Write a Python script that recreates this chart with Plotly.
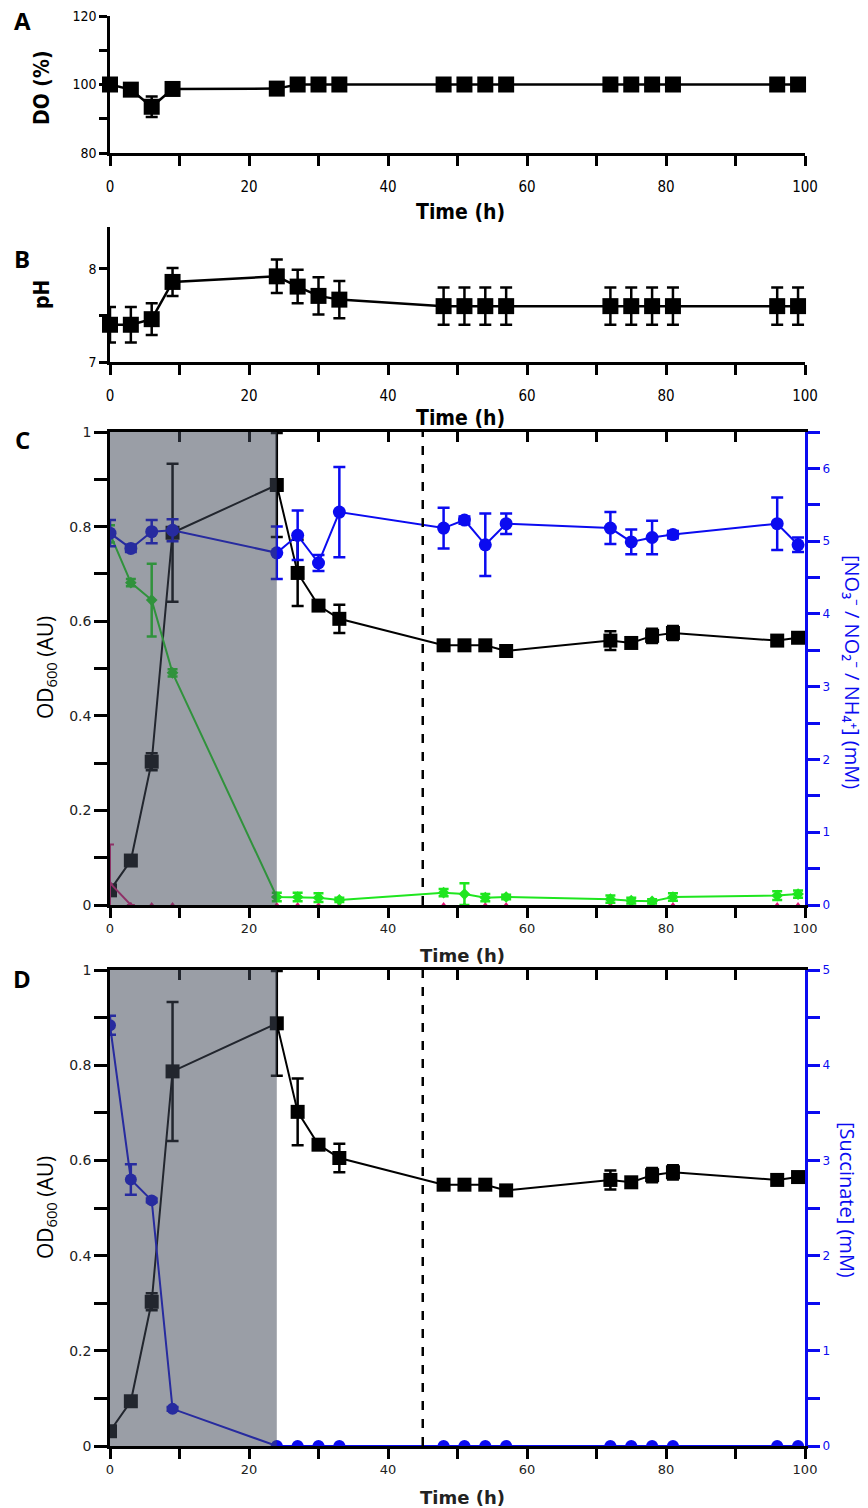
import plotly.graph_objects as go

# ---------------- data ----------------
time_h = [0, 3, 6, 9, 24, 27, 30, 33, 48, 51, 54, 57, 72, 75, 78, 81, 96, 99]

do_pct = [100, 98.5, 93.5, 98.7, 98.8, 100, 100, 100, 100, 100, 100, 100, 100, 100, 100, 100, 100, 100]
do_err = [0, 0, 3.0, 0, 0, 0, 0, 0, 0, 0, 0, 0, 0, 0, 0, 0, 0, 0]

ph = [7.40, 7.40, 7.46, 7.86, 7.92, 7.81, 7.71, 7.67, 7.60, 7.60, 7.60, 7.60, 7.60, 7.60, 7.60, 7.60, 7.60, 7.60]
ph_err = [0.19, 0.19, 0.17, 0.15, 0.18, 0.18, 0.20, 0.20, 0.20, 0.20, 0.20, 0.20, 0.20, 0.20, 0.20, 0.20, 0.20, 0.20]

od600 = [0.031, 0.094, 0.303, 0.787, 0.888, 0.702, 0.633, 0.605, 0.549, 0.549, 0.549, 0.537, 0.559, 0.554, 0.569, 0.575, 0.559, 0.565]
od600_err = [0.005, 0.005, 0.018, 0.146, 0.11, 0.07, 0.008, 0.03, 0.008, 0.005, 0.005, 0.008, 0.02, 0.008, 0.015, 0.015, 0.01, 0.01]

nitrate = [5.11, 4.90, 5.13, 5.15, 4.84, 5.08, 4.70, 5.40, 5.18, 5.29, 4.95, 5.24, 5.18, 4.99, 5.05, 5.09, 5.24, 4.95]
nitrate_err = [0.18, 0.05, 0.16, 0.15, 0.36, 0.34, 0.11, 0.62, 0.28, 0.05, 0.43, 0.14, 0.22, 0.17, 0.23, 0.05, 0.36, 0.10]

nitrite = [5.10, 4.43, 4.19, 3.19, 0.11, 0.11, 0.10, 0.07, 0.17, 0.15, 0.10, 0.11, 0.08, 0.06, 0.05, 0.11, 0.13, 0.15]
nitrite_err = [0.12, 0.05, 0.50, 0.05, 0.06, 0.06, 0.06, 0.03, 0.05, 0.15, 0.05, 0.03, 0.05, 0.04, 0.03, 0.05, 0.06, 0.05]

ammonium = [0.30, 0, 0, 0, 0, 0, 0, 0, 0, 0, 0, 0, 0, 0, 0, 0, 0, 0]
ammonium_err = [0.53, 0, 0, 0, 0, 0, 0, 0, 0, 0, 0, 0, 0, 0, 0, 0, 0, 0]

succinate = [4.42, 2.80, 2.58, 0.39, 0.0, 0, 0, 0, 0, 0, 0, 0, 0, 0, 0, 0, 0, 0]
succinate_err = [0.10, 0.16, 0.02, 0.02, 0, 0, 0, 0, 0, 0, 0, 0, 0, 0, 0, 0, 0, 0]

anaerobic_end = 24
switch_time = 45

# ---------------- layout helpers ----------------
W, H = 868, 1508
ML, MR = 110, 63
PW = W - ML - MR


def px_x(p):
    return (p - ML) / PW


def px_y(p):
    return 1 - p / H


BLACK = "#000000"
BLUE = "#0b0bf0"
LIME = "#1fe61f"
MAG = "#e6197a"
NARROW = "DejaVu Sans Condensed, Liberation Sans Narrow, sans-serif"
WIDE = "DejaVu Sans, Verdana, sans-serif"
OPEN = "Open Sans, Noto Sans, sans-serif"

fig = go.Figure()


def err(vals, color, thick=2.5, width=6):
    return dict(type="data", array=vals, visible=True, color=color, thickness=thick, width=width)


# Panel A
fig.add_trace(go.Scatter(x=time_h, y=do_pct, mode="lines+markers", xaxis="x", yaxis="y",
                         line=dict(color=BLACK, width=2.5),
                         marker=dict(symbol="square", size=16, color=BLACK),
                         error_y=err(do_err, BLACK), cliponaxis=False, showlegend=False))
# Panel B
fig.add_trace(go.Scatter(x=time_h, y=ph, mode="lines+markers", xaxis="x2", yaxis="y2",
                         line=dict(color=BLACK, width=2.5),
                         marker=dict(symbol="square", size=16, color=BLACK),
                         error_y=err(ph_err, BLACK), cliponaxis=False, showlegend=False))
# Panel C
fig.add_trace(go.Scatter(x=time_h, y=od600, mode="lines+markers", xaxis="x3", yaxis="y3",
                         line=dict(color=BLACK, width=2),
                         marker=dict(symbol="square", size=14, color=BLACK),
                         error_y=err(od600_err, BLACK), showlegend=False))
# ammonium: the line along zero is hidden by the x axis in the reference
fig.add_trace(go.Scatter(x=time_h[:2], y=ammonium[:2], mode="lines+markers", xaxis="x3", yaxis="y4",
                         line=dict(color=MAG, width=2),
                         marker=dict(symbol="triangle-up", size=6, color=MAG),
                         error_y=err(ammonium_err[:2], MAG, 2, 4), showlegend=False))
fig.add_trace(go.Scatter(x=time_h[1:], y=ammonium[1:], mode="markers", xaxis="x3", yaxis="y4",
                         marker=dict(symbol="triangle-up", size=6, color=MAG),
                         showlegend=False))
fig.add_trace(go.Scatter(x=time_h, y=nitrite, mode="lines+markers", xaxis="x3", yaxis="y4",
                         line=dict(color=LIME, width=2),
                         marker=dict(symbol="diamond", size=9, color=LIME),
                         error_y=err(nitrite_err, LIME, 2.5, 5), showlegend=False))
fig.add_trace(go.Scatter(x=time_h, y=nitrate, mode="lines+markers", xaxis="x3", yaxis="y4",
                         line=dict(color=BLUE, width=2),
                         marker=dict(symbol="circle", size=13, color=BLUE),
                         error_y=err(nitrate_err, BLUE, 2.5, 6), showlegend=False))
fig.add_trace(go.Scatter(x=[], y=[], xaxis="x4", yaxis="y3", showlegend=False))
# Panel D
fig.add_trace(go.Scatter(x=time_h, y=od600, mode="lines+markers", xaxis="x5", yaxis="y5",
                         line=dict(color=BLACK, width=2),
                         marker=dict(symbol="square", size=14, color=BLACK),
                         error_y=err(od600_err, BLACK), showlegend=False))
fig.add_trace(go.Scatter(x=time_h, y=succinate, mode="lines+markers", xaxis="x5", yaxis="y6",
                         line=dict(color=BLUE, width=2),
                         marker=dict(symbol="circle", size=12, color=BLUE),
                         error_y=err(succinate_err, BLUE, 2.5, 6), showlegend=False))
fig.add_trace(go.Scatter(x=[], y=[], xaxis="x6", yaxis="y5", showlegend=False))

dom_A = [px_y(153), px_y(16)]
dom_B = [px_y(362), px_y(227)]
dom_C = [px_y(905), px_y(432)]
dom_D = [px_y(1446), px_y(970)]

ab_x = dict(range=[0, 100], showline=True, linewidth=2.5, linecolor=BLACK, ticks="outside",
            ticklen=10, tickwidth=2.5, tickcolor=BLACK, dtick=20, tick0=0,
            minor=dict(dtick=10, ticks="outside", ticklen=10, tickwidth=2.5, tickcolor=BLACK),
            showgrid=False, zeroline=False, tickfont=dict(family=NARROW, size=15, color=BLACK),
            ticklabelstandoff=8, automargin=False)
ab_y = dict(showline=True, linewidth=2.5, linecolor=BLACK, ticks="outside", ticklen=8,
            tickwidth=2.5, tickcolor=BLACK, showgrid=False, zeroline=False,
            tickfont=dict(family=NARROW, size=14, color=BLACK), automargin=False)

cd_x = dict(range=[0, 100], showline=True, linewidth=2.5, linecolor=BLACK, ticks="outside",
            ticklen=10, tickwidth=2.5, tickcolor=BLACK, dtick=20, tick0=0,
            minor=dict(dtick=10, ticks="outside", ticklen=10, tickwidth=2.5, tickcolor=BLACK),
            showgrid=False, zeroline=False, tickfont=dict(family=WIDE, size=13, color="#222"),
            automargin=False)
cd_top = dict(range=[0, 100], side="top", showline=True, linewidth=2.5, linecolor=BLACK,
              ticks="inside", ticklen=10, tickwidth=2.5, tickcolor=BLACK, dtick=10, tick0=0,
              showticklabels=False, showgrid=False, zeroline=False, automargin=False)
cd_yl = dict(range=[0, 1], showline=True, linewidth=2.5, linecolor=BLACK, ticks="outside",
             ticklen=13, tickwidth=2.5, tickcolor=BLACK, dtick=0.2, tick0=0,
             minor=dict(dtick=0.1, ticks="outside", ticklen=13, tickwidth=2.5, tickcolor=BLACK),
             showgrid=False, zeroline=False, tickfont=dict(family=WIDE, size=14, color="#222"),
             automargin=False)
cd_yr = dict(showline=True, linewidth=3, linecolor=BLUE, ticks="outside", side="right",
             ticklen=12, tickwidth=2.5, tickcolor=BLUE, dtick=1, tick0=0,
             minor=dict(dtick=0.5, ticks="outside", ticklen=12, tickwidth=2.5, tickcolor=BLUE),
             showgrid=False, zeroline=False, tickfont=dict(family=WIDE, size=12, color=BLUE),
             automargin=False)

fig.update_layout(
    width=W, height=H, margin=dict(l=ML, r=MR, t=0, b=0),
    plot_bgcolor="white", paper_bgcolor="white", showlegend=False,
    xaxis=dict(ab_x, domain=[0, 1], anchor="y"),
    yaxis=dict(ab_y, domain=dom_A, anchor="x", range=[80, 120], dtick=20, tick0=80,
               minor=dict(dtick=10, ticks="outside", ticklen=8, tickwidth=2.5, tickcolor=BLACK)),
    xaxis2=dict(ab_x, domain=[0, 1], anchor="y2"),
    yaxis2=dict(ab_y, domain=dom_B, anchor="x2", range=[7, 8.45], dtick=1, tick0=7,
                minor=dict(dtick=0.5, ticks="outside", ticklen=8, tickwidth=2.5, tickcolor=BLACK)),
    xaxis3=dict(cd_x, domain=[0, 1], anchor="y3"),
    xaxis4=dict(cd_top, domain=[0, 1], anchor="y3", overlaying="x3"),
    yaxis3=dict(cd_yl, domain=dom_C, anchor="x3"),
    yaxis4=dict(cd_yr, domain=dom_C, anchor="x3", overlaying="y3", range=[0, 6.5]),
    xaxis5=dict(cd_x, domain=[0, 1], anchor="y5", layer="below traces"),
    xaxis6=dict(cd_top, domain=[0, 1], anchor="y5", overlaying="x5"),
    yaxis5=dict(cd_yl, domain=dom_D, anchor="x5"),
    yaxis6=dict(cd_yr, domain=dom_D, anchor="x5", overlaying="y5", range=[0, 5]),
)

# shaded anaerobic region and dashed switch line (C and D)
for xr, yr in (("x3", "y3"), ("x5", "y5")):
    fig.add_shape(type="rect", xref=xr, yref=yr, x0=0, x1=anaerobic_end, y0=0, y1=1,
                  fillcolor="rgba(64,72,87,0.53)", line=dict(width=0), layer="above")
    fig.add_shape(type="line", xref=xr, yref=yr, x0=switch_time, x1=switch_time, y0=0, y1=1,
                  line=dict(color=BLACK, width=2.5, dash="dash"), layer="above")

ann = []


def add_text(text, px, py, font, angle=0, xanchor="center", yanchor="middle"):
    ann.append(dict(text=text, x=px_x(px), y=px_y(py), xref="paper", yref="paper",
                    showarrow=False, font=font, textangle=angle,
                    xanchor=xanchor, yanchor=yanchor))


letter_font = dict(family="Open Sans, Liberation Sans, sans-serif", size=24, color=BLACK)
add_text("<b>A</b>", 22, 20, letter_font)
add_text("<b>B</b>", 22, 258, letter_font)
add_text("<b>C</b>", 22, 440, letter_font)
add_text("<b>D</b>", 22, 978, letter_font)

tfont_ab = dict(family=NARROW, size=21, color=BLACK)
add_text("<b>Time (h)</b>", 460, 212, tfont_ab)
add_text("<b>Time (h)</b>", 460, 418, tfont_ab)
add_text("<b>DO (%)</b>", 42, 88, tfont_ab, angle=-90)
add_text("<b>pH</b>", 42, 295, tfont_ab, angle=-90)

tfont_cd = dict(family=WIDE, size=18, color="#222")
add_text("<b>Time (h)</b>", 462, 955, tfont_cd)
add_text("<b>Time (h)</b>", 462, 1497, tfont_cd)
od_font = dict(family=OPEN, size=21, color=BLACK)
add_text("OD<sub>600</sub> (AU)", 46, 668, od_font, angle=-90)
add_text("OD<sub>600</sub> (AU)", 46, 1208, od_font, angle=-90)
blue_font = dict(family=OPEN, size=20, color=BLUE)
add_text("[NO₃⁻ / NO₂⁻ / NH₄⁺] (mM)", 853, 672, blue_font, angle=90)
add_text("[Succinate] (mM)", 848, 1200, blue_font, angle=90)

fig.update_layout(annotations=ann)

fig.write_html("out.html")
